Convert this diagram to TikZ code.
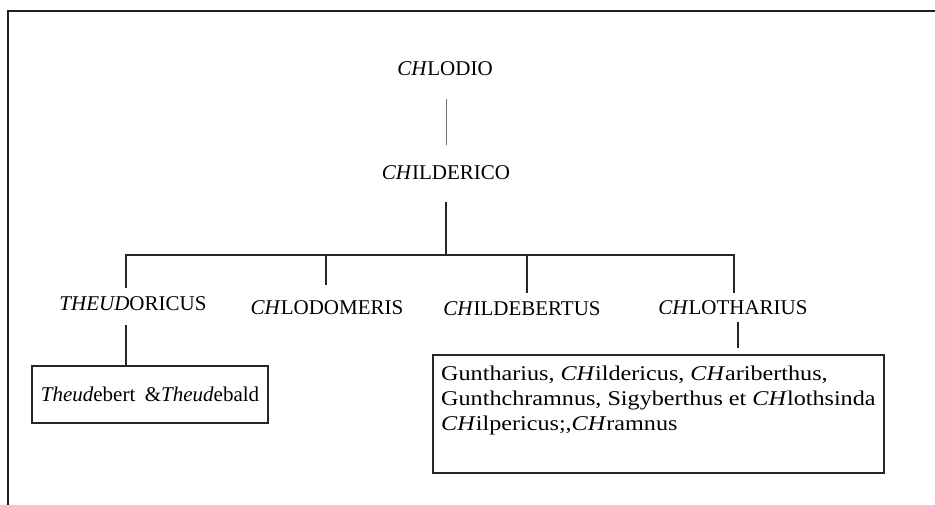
\documentclass[tikz,border=0pt]{standalone}
\usepackage{fontspec}
\setmainfont{Liberation Serif}
\newfontfamily\listfont[FakeStretch=1.15]{Liberation Serif}

\begin{document}
\begin{tikzpicture}[x=1pt,y=-1pt,
  person/.style={font=\fontsize{21}{25}\selectfont, inner sep=0pt,
    text height=14pt, text depth=0pt},
  frameline/.style={line width=2.3pt, draw=black!88},
  trunk/.style={line width=2.7pt, draw=black!85},
  thinlink/.style={line width=1pt, draw=black!55},
  kinbox/.style={draw=black!85, line width=2.1pt, inner sep=0pt}]

\useasboundingbox (0,0) rectangle (935,505);

% open frame: top and left sides
\draw[frameline] (8,505) -- (8,11) -- (935,11);

% generations
\node[person] (chlodio)    at (445,69)  {\textit{CH}LODIO};
\node[person] (childerico) at (446,173) {\textit{CH}ILDERICO};

\node[person] (theud)   at (133,303) {\textit{THEUD}ORICUS};
\node[person] (chlodom) at (327,308) {\textit{CH}LODOMERIS};
\node[person] (childeb) at (522,309) {\textit{CH}ILDEBERTUS};
\node[person] (chloth)  at (733,308) {\textit{CH}LOTHARIUS};

% grandchildren boxes
\node[kinbox, minimum width=236pt, minimum height=57pt,
      font=\fontsize{21}{25}\selectfont] (theudbox) at (150,394.5)
  {\textit{Theud}ebert\hspace{0.45em}\&\textit{Theud}ebald};

\node[kinbox, anchor=north west, minimum width=451pt, minimum height=118pt]
  (kids) at (432,354) {};
\node[anchor=base west, inner sep=0pt] (kidnames) at (441,380)
  {\parbox[t]{440pt}{\listfont\fontsize{21}{25.5}\selectfont
    Guntharius, \textit{CH}ildericus, \textit{CH}ariberthus,\\
    Gunthchramnus, Sigyberthus et \textit{CH}lothsinda\\
    \textit{CH}ilpericus;,\textit{CH}ramnus}};

% drop points on the sibling bar
\coordinate (d1) at (126,255);
\coordinate (d2) at (326,255);
\coordinate (d3) at (527,255);
\coordinate (d4) at (734,255);
\coordinate (k4) at (738,0);

% links
\draw[thinlink, shorten <=23pt, shorten >=21pt]
  (chlodio.south -| childerico) -- (childerico.north);
\draw[trunk, shorten <=22pt] (childerico.south) -- (childerico.south |- d1);
\draw[trunk, line join=miter, shorten <=8pt, shorten >=8pt]
  (theud.north -| d1) -- (d1) -- (d4) -- (chloth.north -| d4);
\draw[trunk, shorten >=16pt] (d2) -- (d2 |- chlodom.north);
\draw[trunk, shorten >=9pt]  (d3) -- (d3 |- childeb.north);

\draw[trunk, shorten <=15pt] (theud.south -| d1) -- (theudbox.north -| d1);
\draw[trunk, shorten <=7pt, shorten >=6pt] (chloth.south -| k4) -- (kids.north -| k4);

\end{tikzpicture}
\end{document}
